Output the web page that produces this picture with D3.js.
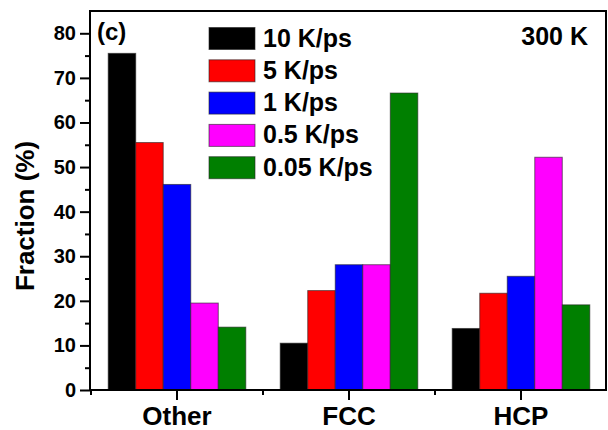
<!DOCTYPE html>
<html>
<head>
<meta charset="utf-8">
<script src="https://cdn.jsdelivr.net/npm/d3@7"></script>
<style>
  body { margin: 0; background: #fff; }
  svg { display: block; font-family: 'Liberation Sans', Arial, sans-serif; font-weight: bold; }
</style>
</head>
<body>
<div id="chart"></div>
<script>
const categories = ['Other', 'FCC', 'HCP'];
const seriesNames = ['10 K/ps', '5 K/ps', '1 K/ps', '0.5 K/ps', '0.05 K/ps'];
const seriesColors = ['#000000', '#ff0000', '#0000ff', '#ff00ff', '#007f00'];
// values[series][category], fraction in %
const rate10 = [75.5, 10.5, 13.8];
const rate5 = [55.5, 22.3, 21.7];
const rate1 = [46.1, 28.1, 25.5];
const rate05 = [19.5, 28.1, 52.2];
const rate005 = [14.1, 66.6, 19.1];
const yTicks = [0, 10, 20, 30, 40, 50, 60, 70, 80];

const values = [rate10, rate5, rate1, rate05, rate005];
const W = 608, H = 430;
const mLeft = 90, mRight = 606, mTop = 11, mBottom = 390;

const svg = d3.select('#chart').append('svg').attr('width', W).attr('height', H);

const x = d3.scaleBand().domain(categories).range([91, 607]).paddingInner(0).paddingOuter(0);
// five bars fill 80% of each group
const xs = d3.scaleBand().domain(seriesNames).range([0, x.bandwidth()]).paddingInner(0).paddingOuter(0.625);
const y = d3.scaleLinear().domain([0, 85]).range([mBottom, mTop]);

// bars
const data = [];
categories.forEach((c, ci) => seriesNames.forEach((s, si) => data.push({ c, s, si, v: values[si][ci] })));
svg.append('g').selectAll('rect').data(data).join('rect')
  .attr('x', d => x(d.c) + xs(d.s))
  .attr('width', xs.bandwidth())
  .attr('y', d => y(d.v))
  .attr('height', d => y(0) - y(d.v))
  .attr('fill', d => seriesColors[d.si])
  .attr('stroke', '#222')
  .attr('stroke-opacity', 0.6)
  .attr('stroke-width', 1);

// y axis
const yAxis = svg.append('g').attr('transform', `translate(${mLeft},0)`)
  .call(d3.axisLeft(y).tickValues(yTicks).tickSize(10).tickPadding(4));
yAxis.select('.domain').remove();
yAxis.selectAll('.tick line').attr('stroke-width', 2);
yAxis.selectAll('.tick text').style('font-size', '20px').style('font-weight', 'bold').attr('fill', '#000')
  .attr('font-family', null);
svg.append('g').attr('transform', `translate(${mLeft},0)`)
  .call(d3.axisLeft(y).tickValues(d3.range(5, 85, 10)).tickSize(5).tickFormat(''))
  .call(g => g.select('.domain').remove())
  .selectAll('line').attr('stroke-width', 2);

// x axis
const xAxis = svg.append('g').attr('transform', `translate(0,${mBottom})`)
  .call(d3.axisBottom(x).tickSize(10).tickPadding(7));
xAxis.select('.domain').remove();
xAxis.selectAll('.tick line').attr('stroke-width', 2);
xAxis.selectAll('.tick text').style('font-size', '26px').style('font-weight', 'bold').attr('fill', '#000')
  .attr('font-family', null);
// minor x ticks at group boundaries
const bounds = categories.slice(1).map(c => x(c));
svg.append('g').selectAll('line').data([91, ...bounds]).join('line')
  .attr('x1', d => d).attr('x2', d => d)
  .attr('y1', mBottom).attr('y2', mBottom + 5)
  .attr('stroke', '#000').attr('stroke-width', 2);

// frame
svg.append('path')
  .attr('d', `M${mLeft},${mBottom}V${mTop}H${mRight}V${mBottom}H${mLeft}`)
  .attr('fill', 'none').attr('stroke', '#000').attr('stroke-width', 2);

// axis label
svg.append('text')
  .attr('transform', `translate(34,216) rotate(-90)`)
  .attr('text-anchor', 'middle')
  .style('font-size', '26px')
  .text('Fraction (%)');

// annotations
svg.append('text').attr('x', 97).attr('y', 40).style('font-size', '24px').text('(c)');
svg.append('text').attr('x', 588).attr('y', 45).attr('text-anchor', 'end').style('font-size', '25px').text('300 K');

// legend
const legend = svg.append('g').selectAll('g').data(seriesNames).join('g')
  .attr('transform', (d, i) => `translate(209,${27.5 + i * 32.3})`);
legend.append('rect')
  .attr('width', 46).attr('height', 22)
  .attr('fill', (d, i) => seriesColors[i])
  .attr('stroke', '#222').attr('stroke-opacity', 0.6).attr('stroke-width', 1);
legend.append('text')
  .attr('x', 54).attr('y', 19)
  .style('font-size', '25px')
  .text(d => d);
</script>
</body>
</html>
